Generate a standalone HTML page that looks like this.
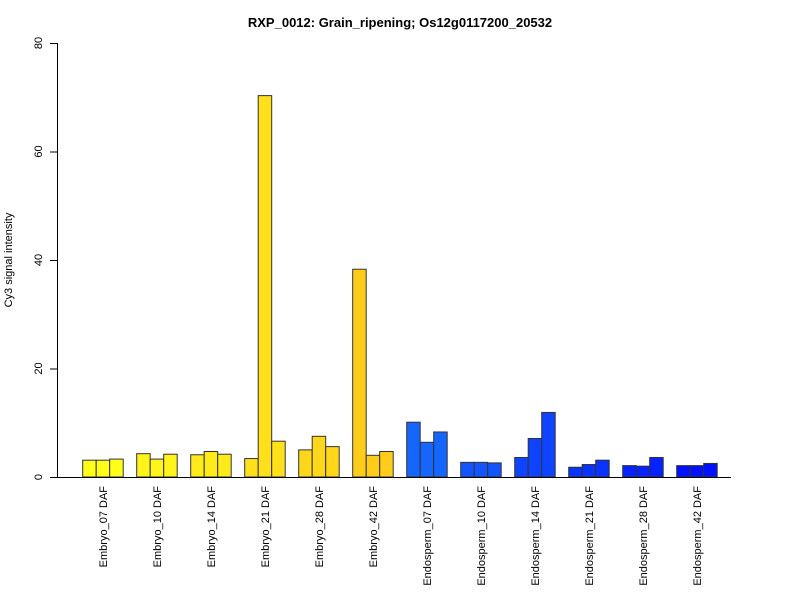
<!DOCTYPE html>
<html><head><meta charset="utf-8"><style>
body{margin:0;background:#fff}
svg{display:block;font-family:"Liberation Sans",Arial,sans-serif}
</style></head><body>
<svg id="chart" width="800" height="600">
<text x="400" y="27" text-anchor="middle" font-size="13" font-weight="bold">RXP_0012: Grain_ripening; Os12g0117200_20532</text>
<text transform="translate(12,260) rotate(-90)" text-anchor="middle" font-size="11">Cy3 signal intensity</text>
<g id="yaxis"></g>
<g id="bars"></g>
<g id="xlabels"></g>
<line x1="57" y1="477.5" x2="731" y2="477.5" stroke="#000"/>
</svg>
<script>
const categories=["Embryo_07 DAF","Embryo_10 DAF","Embryo_14 DAF","Embryo_21 DAF","Embryo_28 DAF","Embryo_42 DAF","Endosperm_07 DAF","Endosperm_10 DAF","Endosperm_14 DAF","Endosperm_21 DAF","Endosperm_28 DAF","Endosperm_42 DAF"];
const rep1=[3.1,4.3,4.1,3.4,5.0,38.3,10.1,2.7,3.6,1.8,2.1,2.1];
const rep2=[3.1,3.3,4.7,70.3,7.5,4.0,6.4,2.7,7.1,2.3,2.0,2.1];
const rep3=[3.3,4.2,4.2,6.6,5.6,4.7,8.3,2.6,11.9,3.1,3.6,2.5];
const colors=["#FFFF1A","#FFF51A","#FFEB1A","#FFE01A","#FFD71A","#FFCC1A","#1466FF","#1255FF","#0E44FF","#0A33FF","#0522FF","#0011FF"];
const yTicks=[0,20,40,60,80];
const NS="http://www.w3.org/2000/svg";
const y=v=>477-v*5.425;
const x0=82.7,gw=54,bw=13.5;
const ya=document.getElementById('yaxis');
const ax=document.createElementNS(NS,'line');


ax.setAttribute('x1',57.5);ax.setAttribute('x2',57.5);ax.setAttribute('y1',y(0));ax.setAttribute('y2',y(80));ax.setAttribute('stroke','#000');
ya.appendChild(ax);
yTicks.forEach(t=>{
  const l=document.createElementNS(NS,'line');
  
  
  l.setAttribute('x1',50);l.setAttribute('x2',57.5);l.setAttribute('y1',y(t)+0.5);l.setAttribute('y2',y(t)+0.5);l.setAttribute('stroke','#000');
  ya.appendChild(l);
  const tx=document.createElementNS(NS,'text');
  
  
  tx.setAttribute('transform',`translate(42,${y(t)}) rotate(-90)`);
  tx.setAttribute('text-anchor','middle');tx.setAttribute('font-size','11');
  tx.textContent=t;ya.appendChild(tx);
});
const bg=document.getElementById('bars');
const xl=document.getElementById('xlabels');
categories.forEach((c,i)=>{
  [rep1[i],rep2[i],rep3[i]].forEach((v,j)=>{
    const r=document.createElementNS(NS,'rect');
    
    
    r.setAttribute('x',x0+i*gw+j*bw);r.setAttribute('width',bw);
    r.setAttribute('y',y(v));r.setAttribute('height',477-y(v));
    r.setAttribute('fill',colors[i]);r.setAttribute('stroke','#333');r.setAttribute('stroke-width','1');
    bg.appendChild(r);
  });
  const t=document.createElementNS(NS,'text');
  
  
  t.setAttribute('transform',`translate(${x0+i*gw+bw*1.5+4},486) rotate(-90)`);
  t.setAttribute('text-anchor','end');t.setAttribute('font-size','11');
  t.textContent=c;xl.appendChild(t);
});
</script>
</body></html>
